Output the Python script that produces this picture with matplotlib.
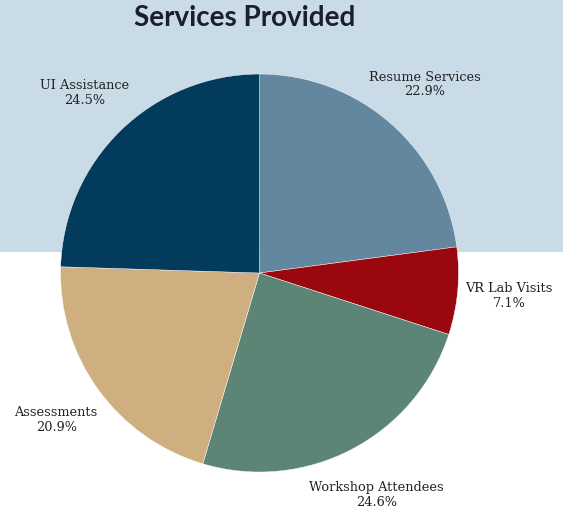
import matplotlib.pyplot as plt
from matplotlib.patches import Rectangle

services = ['Resume Services', 'VR Lab Visits', 'Workshop Attendees', 'Assessments', 'UI Assistance']
shares = [22.9, 7.1, 24.6, 20.9, 24.5]
colors = ['#62879e', '#9b070f', '#5d8575', '#cfae7f', '#033b5c']

fig = plt.figure(figsize=(5.63, 5.14), dpi=100)

# light blue band behind the top half
bg = fig.add_axes([0, 0, 1, 1], zorder=-1)
bg.add_patch(Rectangle((0, 0.5097), 1, 0.4903, facecolor='#c9dbe7', edgecolor='none'))
bg.set_xlim(0, 1)
bg.set_ylim(0, 1)
bg.axis('off')

ax = fig.add_axes([0, 0, 1, 1])
ax.patch.set_alpha(0)
labels = [f'{s}\n{v:.1f}%' for s, v in zip(services, shares)]
wedges, texts = ax.pie(shares, labels=labels, colors=colors, startangle=90,
                       counterclock=False, labeldistance=1.26,
                       wedgeprops=dict(edgecolor='white', linewidth=0.3),
                       textprops=dict(family='DejaVu Serif', fontsize=9.3, color='#222222'))
for t in texts:
    t.set_ha('center')
    t.set_va('center')
    t.set_linespacing(1.15)

ax.set_xlim(-1.304, 1.525)
ax.set_ylim(-1.211, 1.372)
ax.set_aspect('equal')
ax.axis('off')

fig.text(0.435, 0.965, 'Services Provided', ha='center', va='center',
         family='Lato', fontweight='bold', fontsize=20, color='#1a1f2b')

fig.savefig('out.png', dpi=100)
